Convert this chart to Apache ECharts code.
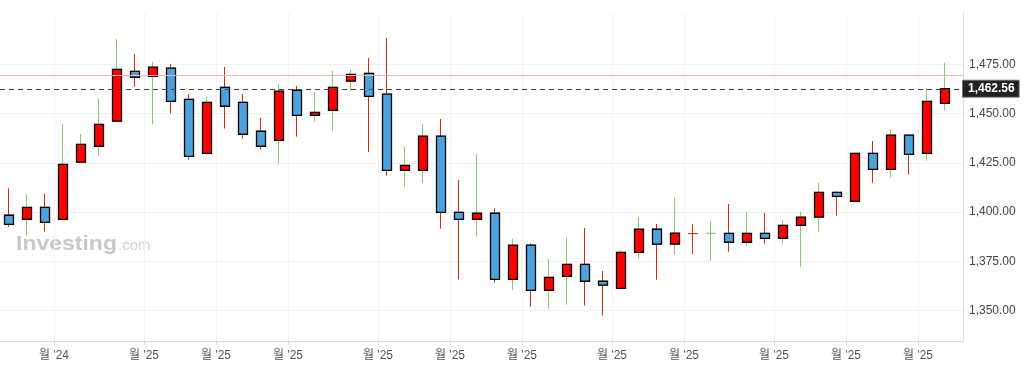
<!DOCTYPE html>
<html><head><meta charset="utf-8">
<script src="https://cdn.jsdelivr.net/npm/echarts@6/dist/echarts.min.js"></script>
<style>html,body{margin:0;padding:0;background:#fff}#c{width:1032px;height:370px}</style>
</head><body><div id="c"></div>
<script>
// Weekly candles (week dates, Sunday), Nov 17 2024 .. Nov 16 2025
const firstWeek = Date.UTC(2024, 10, 17);
const weekDates = [];
for (let i = 0; i < 53; i++) weekDates.push(new Date(firstWeek + i * 7 * 86400000).toISOString().slice(0, 10));

const openVals = [1398.4,1396.3,1402.4,1396.3,1425.3,1433.4,1446.1,1471.4,1468.9,1473.0,
  1457.2,1429.8,1463.3,1455.7,1441.0,1436.4,1461.8,1449.1,1451.6,1466.4,
  1470.4,1459.8,1421.2,1421.2,1438.5,1399.9,1396.3,1399.4,1365.9,1383.2,
  1360.3,1367.4,1373.5,1364.9,1361.3,1379.6,1391.3,1383.7,1389.1,1389.2,
  1389.2,1384.7,1389.2,1386.7,1393.3,1397.4,1410.0,1405.5,1429.8,1421.7,
  1439.0,1429.8,1455.2];
const closeVals = [1393.8,1402.4,1394.8,1424.2,1434.4,1444.5,1472.4,1468.4,1473.5,1456.2,
  1428.3,1455.7,1453.7,1439.5,1433.4,1461.3,1449.1,1450.6,1463.3,1469.9,
  1458.7,1421.2,1423.7,1438.5,1399.9,1396.3,1399.4,1365.9,1383.2,1360.3,
  1366.9,1373.5,1364.9,1362.9,1379.6,1391.3,1383.7,1389.3,1389.1,1389.2,
  1384.7,1389.2,1386.7,1393.3,1397.4,1410.0,1408.0,1429.8,1421.7,1439.0,
  1429.3,1456.2,1462.56];
const highVals = [1412.1,1409.2,1409.2,1444.7,1439.6,1457.4,1487.8,1480.2,1476.2,1475.2,
  1459.8,1458.4,1473.6,1459.8,1447.8,1465.0,1464.0,1460.9,1471.6,1472.1,
  1478.2,1488.3,1433.1,1444.7,1447.2,1416.3,1429.5,1401.9,1386.4,1384.2,
  1376.2,1386.9,1391.9,1370.1,1380.6,1397.5,1394.0,1407.2,1394.0,1395.5,
  1404.1,1400.1,1399.6,1396.0,1400.1,1414.8,1410.5,1430.3,1436.1,1442.2,
  1439.5,1463.0,1475.7];
const lowVals = [1392.5,1388.1,1390.1,1396.3,1425.3,1428.6,1446.1,1463.5,1444.7,1450.0,
  1426.6,1429.8,1442.4,1437.3,1431.7,1424.6,1438.3,1445.9,1441.3,1461.6,
  1430.5,1418.5,1412.9,1414.9,1391.6,1365.9,1387.6,1364.2,1360.7,1352.0,
  1351.0,1353.1,1352.6,1347.5,1361.3,1376.4,1365.7,1378.4,1378.9,1375.4,
  1379.9,1382.5,1384.0,1384.0,1372.3,1390.1,1398.2,1405.5,1414.9,1417.5,
  1419.0,1426.1,1451.5];

const yTickValues = [1350, 1375, 1400, 1425, 1450, 1475];
const monthLabels = ["월 '24","월 '25","월 '25","월 '25","월 '25","월 '25","월 '25","월 '25","월 '25","월 '25","월 '25","월 '25"];
const lastPrice = 1462.56;
const refLevel = 1469.4;

// month ticks: boundary after the first weekly candle of each month
const monthTicks = [];
for (let i = 1; i < weekDates.length; i++) {
  if (weekDates[i].slice(5, 7) !== weekDates[i - 1].slice(5, 7)) monthTicks.push(i + 0.5);
}
const monthLabelAt = {};
monthTicks.forEach((v, k) => { monthLabelAt[v] = monthLabels[k]; });

const UP_FILL = '#ff0000', DOWN_FILL = '#4ba2dc';
const UP_WICK = '#8cc76e', DOWN_WICK = '#c4320f';
const FONT = '"Liberation Sans", "Noto Sans CJK KR", sans-serif';
const fmt = v => Number(v).toLocaleString('en-US', {minimumFractionDigits: 2, maximumFractionDigits: 2});

const wickData = weekDates.map((d, i) => {
  const item = { value: [i, openVals[i], closeVals[i], lowVals[i], highVals[i]] };
  if (openVals[i] === closeVals[i]) {
    const up = i === 0 || closeVals[i - 1] <= closeVals[i];
    const c = up ? UP_WICK : DOWN_WICK;
    item.itemStyle = { borderColor: c, borderColor0: c, borderColorDoji: c };
  }
  return item;
});
const bodyData = weekDates.map((d, i) => {
  if (openVals[i] === closeVals[i]) return [i, '-', '-', '-', '-'];
  return [i, openVals[i], closeVals[i], Math.min(openVals[i], closeVals[i]), Math.max(openVals[i], closeVals[i])];
});

const chart = echarts.init(document.getElementById('c'));
chart.setOption({
  animation: false,
  backgroundColor: '#ffffff',
  grid: { left: 0, right: 69, top: 13, bottom: 29, containLabel: false, outerBoundsMode: 'none' },
  xAxis: {
    type: 'value', min: -0.5, max: 53,
    axisLine: { show: true, onZero: false, lineStyle: { color: '#dcdcdc', width: 1 } },
    axisTick: { show: true, length: 4, lineStyle: { color: '#dcdcdc' }, customValues: monthTicks },
    axisLabel: { show: true, customValues: monthTicks, formatter: v => monthLabelAt[v] || '', color: '#555', fontSize: 12, fontFamily: FONT, margin: 9 },
    splitLine: { show: true, lineStyle: { color: '#f3f3f3', width: 1 } }
  },
  yAxis: {
    type: 'value', position: 'right', min: 1334.6, max: 1501, scale: true,
    axisLine: { show: true, onZero: false, lineStyle: { color: '#dcdcdc', width: 1 } },
    axisTick: { show: false, customValues: yTickValues },
    axisLabel: { show: true, customValues: yTickValues, formatter: fmt, color: '#444', fontSize: 12, fontFamily: FONT, margin: 6 },
    splitLine: { show: true, lineStyle: { color: '#f1f1f1', width: 1 } }
  },
  graphic: [
    { type: 'text', left: 16, top: 234, z: 0, scaleX: 1.15,
      style: { text: 'Investing', font: 'bold 20px "Liberation Sans"', fill: '#c8c8c8' } },
    { type: 'text', left: 118, top: 238, z: 0,
      style: { text: '.com', font: '15px "Liberation Sans"', fill: '#d0d0d0' } }
  ],
  series: [
    {
      type: 'candlestick', name: 'wick', data: wickData,
      encode: { x: 0, y: [1, 2, 3, 4] },
      barWidth: 9,
      itemStyle: { color: UP_FILL, color0: DOWN_FILL, borderColor: UP_WICK, borderColor0: DOWN_WICK, borderWidth: 1 }
    },
    {
      type: 'candlestick', name: 'body', data: bodyData,
      encode: { x: 0, y: [1, 2, 3, 4] },
      barWidth: 9,
      itemStyle: { color: UP_FILL, color0: DOWN_FILL, borderColor: '#000', borderColor0: '#000', borderWidth: 1.3 },
      markLine: {
        silent: true, symbol: ['none', 'none'], animation: false,
        data: [
          { yAxis: refLevel, lineStyle: { color: '#f5b3c1', type: 'solid', width: 1, opacity: 1 }, label: { show: false } },
          { yAxis: lastPrice, lineStyle: { color: '#444', type: [5, 4], width: 1, opacity: 1 },
            label: { show: true, position: 'end', distance: 0, formatter: fmt(lastPrice),
              backgroundColor: '#222', borderColor: '#777', borderWidth: 1, color: '#fff',
              fontWeight: 'bold', fontSize: 12, fontFamily: FONT, padding: [2, 4, 2, 5] } }
        ]
      }
    }
  ]
});
</script>
</body></html>
